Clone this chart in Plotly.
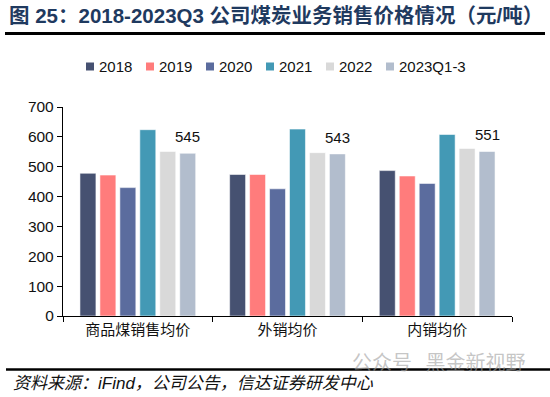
import plotly.graph_objects as go

categories = ["商品煤销售均价", "外销均价", "内销均价"]
series_names = ["2018", "2019", "2020", "2021", "2022", "2023Q1-3"]
values_2018 = [478, 474, 487]
values_2019 = [472, 474, 469]
values_2020 = [430, 426, 444]
values_2021 = [624, 626, 608]
values_2022 = [551, 547, 561]
values_2023 = [545, 543, 551]
series_values = [values_2018, values_2019, values_2020, values_2021, values_2022, values_2023]
colors = ["#465171", "#FF7C7C", "#5B6C9E", "#4399B5", "#D9D9D9", "#B2BDCD"]
y_ticks = [0, 100, 200, 300, 400, 500, 600, 700]

W, H = 550, 397
ML, MR, MT, MB = 63, 38, 107, 81
PW, PH = W - ML - MR, H - MT - MB
BARGAP = 0.2

def px_x(px):
    return (px - ML) / PW

def px_y(py):
    return 1 + (MT - py) / PH

FONT = "Liberation Sans, Arial, Noto Sans CJK SC, sans-serif"

fig = go.Figure()
for i, (name, vals, col) in enumerate(zip(series_names, series_values, colors)):
    fig.add_trace(go.Bar(
        x=categories, y=vals, name=name,
        marker=dict(color=col, line=dict(color="rgba(255,255,255,0.55)", width=1)),
        showlegend=False,
    ))

shapes = []
annotations = []

# value labels above the last series (offset derived from the group layout)
n = len(series_names)
cat_px = PW / len(categories)
slot_px = cat_px * (1 - BARGAP) / n
last_offset = (n - 0.5 - n / 2) * slot_px
for cat, v in zip(categories, values_2023):
    annotations.append(dict(text=str(v), x=cat, y=v, xref="x", yref="y",
                            xshift=last_offset, yshift=6, xanchor="center", yanchor="bottom",
                            showarrow=False, font=dict(size=15, color="#111111", family=FONT)))

# manual compact legend
for i, (name, col) in enumerate(zip(series_names, colors)):
    x0 = 86 + 60 * i
    shapes.append(dict(type="rect", xref="paper", yref="paper",
                       x0=px_x(x0), x1=px_x(x0 + 8), y0=px_y(70.5), y1=px_y(62.5),
                       fillcolor=col, line=dict(width=0)))
    annotations.append(dict(text=name, xref="paper", yref="paper",
                            x=px_x(x0 + 10.5), y=px_y(66.5), xanchor="left", yanchor="middle",
                            showarrow=False, font=dict(size=15, color="#111111", family=FONT)))

# title underline and bottom rule
shapes.append(dict(type="line", xref="paper", yref="paper",
                   x0=px_x(5), x1=px_x(545), y0=px_y(33.5), y1=px_y(33.5),
                   line=dict(color="black", width=3)))
shapes.append(dict(type="line", xref="paper", yref="paper",
                   x0=px_x(6), x1=px_x(550), y0=px_y(369.5), y1=px_y(369.5),
                   line=dict(color="black", width=2.5)))

# watermark
annotations.append(dict(text="公众号   黑金新视野", xref="paper", yref="paper",
                        x=px_x(350), y=px_y(361), xanchor="left", yanchor="middle",
                        showarrow=False,
                        font=dict(size=20, color="rgba(160,160,160,0.6)", family="Noto Sans CJK SC")))

# source
annotations.append(dict(text="<i>资料来源：iFind，公司公告，信达证券研发中心</i>", xref="paper", yref="paper",
                        x=px_x(11), y=px_y(383), xanchor="left", yanchor="middle",
                        showarrow=False,
                        font=dict(size=17, color="#111111", family="Liberation Sans, Noto Sans CJK SC")))

fig.update_layout(
    width=W, height=H,
    margin=dict(l=ML, r=MR, t=MT, b=MB, pad=0),
    paper_bgcolor="white", plot_bgcolor="white",
    barmode="group", bargap=BARGAP, bargroupgap=0.2,
    title=dict(text="<b>图 25：2018-2023Q3 公司煤炭业务销售价格情况（元/吨）</b>",
               x=9 / W, y=1 - 16 / H, xref="container", yref="container",
               xanchor="left", yanchor="middle",
               font=dict(size=20.5, color="#1F3A5F", family="Liberation Sans, Noto Sans CJK SC")),
    xaxis=dict(type="category", showline=True, linecolor="black", linewidth=1.3,
               ticks="outside", tickson="boundaries", ticklen=5, tickcolor="black",
               tickfont=dict(size=15, color="#111111", family="Noto Sans CJK SC"),
               showgrid=False, zeroline=False),
    yaxis=dict(range=[0, 700], tickvals=y_ticks, showline=True, linecolor="black", linewidth=1.3,
               ticks="outside", ticklen=5, tickcolor="black",
               tickfont=dict(size=15.5, color="#111111", family=FONT),
               showgrid=False, zeroline=False),
    shapes=shapes, annotations=annotations,
    showlegend=False,
)

fig.write_html("out.html", config={"displayModeBar": False},
               post_script="document.body.style.margin='0';document.body.style.overflow='hidden';")
